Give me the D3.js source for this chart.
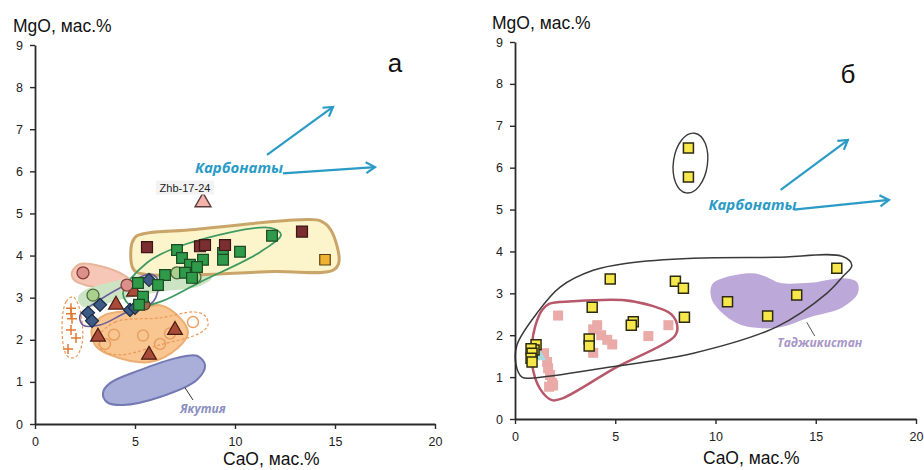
<!DOCTYPE html>
<html><head><meta charset="utf-8">
<script src="https://cdn.jsdelivr.net/npm/d3@7"></script>
<style>
body{margin:0;background:#fff;}
svg{display:block;font-family:"Liberation Sans",Arial,sans-serif;}
</style></head>
<body>
<svg id="c" width="924" height="470"></svg>
<script>
// ---------- data (CaO, MgO wt.%) ----------
const xTicks = [0,5,10,15,20];
const yTicks = [0,1,2,3,4,5,6,7,8,9];

// panel а
const aMaroonSq = [[5.6,4.2],[8.25,4.22],[8.5,4.25],[9.5,4.25],[13.35,4.57]];
const aGoldSq = [[14.5,3.9]];
const aGreenSq = [[7.1,4.13],[9.4,4.06],[9.4,3.9],[10.25,4.09],[11.85,4.47],[7.35,3.94],[8.4,3.9],[7.75,3.78],[8.1,3.73],[7.5,3.59],[7.85,3.47],[6.5,3.54],[6.15,3.3],[5.15,3.35],[5.4,3.02],[5.2,2.83]];
const aLightGreenCirc = [[7.1,3.59],[8.0,3.49],[2.9,3.06]];
const aPinkCirc = [[2.4,3.59],[4.6,3.3]];
const aBrownCirc = [[5.5,2.83]];
const aBlueDiam = [[2.65,2.64],[2.85,2.45],[3.25,2.83],[4.75,2.71],[5.0,2.76],[5.7,3.42]];
const aBrownTri = [[4.05,2.83],[4.95,3.14],[3.15,2.07],[7.0,2.23],[5.7,1.64]];
const aPinkTri = [[8.4,5.27]];
const aOrangeCirc = [[3.95,2.12],[3.5,1.9],[5.4,2.1],[6.25,1.9],[6.75,2.15],[7.9,2.42]];
const aPlus = [[1.8,2.75],[1.8,2.62],[1.85,2.5],[1.8,2.23],[2.05,2.04],[1.65,1.78]];
const aZhbLabel = ["Zhb-17-24"];

// fields (outlines) panel а
const aYellowField = [[4.85,4.3],[5.1,4.47],[8,4.62],[13.3,4.85],[14.3,4.82],[14.8,4.6],[15.2,3.85],[14.9,3.65],[12,3.62],[5.1,3.6],[4.85,3.75]];
const aGreenLoop = [[4.4,3.1],[5.6,3.83],[7.6,4.28],[11.75,4.66],[12.3,4.5],[11.25,4.08],[8.25,3.37],[6.25,2.9],[4.9,2.78]];
const aPurpleLoop = [[2.25,2.58],[3.25,2.95],[4.6,3.32],[5.75,3.56],[6.15,3.42],[5.9,2.9],[4.6,2.66],[3.25,2.35],[2.4,2.35]];
const aLightGreenField = [[2.15,3.0],[2.5,3.18],[4.25,3.42],[6.25,3.66],[8.0,3.82],[8.75,3.71],[8.85,3.47],[8.25,3.28],[6.25,3.14],[4.25,2.95],[3.0,2.78],[2.35,2.8]];
const aSalmonField = [[1.85,3.61],[2.25,3.8],[3.25,3.75],[4.5,3.52],[5.25,3.18],[4.75,3.04],[3.75,3.18],[2.5,3.3],[1.95,3.42]];
const aOrangeField = [[2.85,2.28],[3.5,2.59],[5.0,2.7],[6.25,2.82],[7.25,2.52],[7.65,2.16],[7.15,1.81],[5.75,1.47],[3.75,1.64],[3.0,1.88]];
const aOrangeDashed = [[3.15,2.04],[4.0,2.42],[6.25,2.52],[8.0,2.66],[8.5,2.57],[8.65,2.35],[8.25,2.16],[6.25,1.88],[4.25,1.64],[3.35,1.76]];
const aPlusDashed = [[1.35,2.23],[1.55,2.9],[1.9,3.02],[2.25,2.7],[2.35,1.9],[2.0,1.58],[1.6,1.62]];
const aYakutia = [[3.4,0.74],[3.75,0.97],[5.25,1.28],[7.1,1.57],[8.1,1.62],[8.5,1.4],[8.1,1.05],[6.25,0.64],[4.4,0.45],[3.6,0.52]];
const aYakutiaLeader = [[7.5,0.86],[7.9,0.57]];
const aYakutiaLabel = ["Якутия"];
const aArrows = [[[11.6,6.39],[14.9,7.53]],[[12.4,5.95],[17.0,6.1]]];
const carbLabel = ["Карбонаты"];

// panel б
const bYellowSq = [[8.65,6.47],[8.65,5.78],[4.75,3.34],[8.0,3.29],[8.4,3.12],[3.85,2.67],[8.45,2.43],[5.9,2.32],[5.8,2.24],[3.7,1.91],[3.7,1.74],[10.6,2.8],[12.6,2.46],[14.05,2.96],[16.05,3.6],[1.05,1.77],[0.95,1.65],[0.8,1.68],[0.85,1.57],[0.8,1.45],[0.85,1.36]];
const bPinkSq = [[2.15,2.47],[3.9,2.14],[4.1,2.24],[4.3,2.0],[4.6,1.89],[4.85,1.78],[3.9,1.58],[6.65,1.98],[7.65,2.24],[1.45,1.57],[1.6,1.36],[1.65,1.21],[1.75,1.05],[1.85,0.86],[1.7,0.77],[1.9,0.8]];
const bCyanTri = [[1.2,1.5]];
const bBlackLoop = [[0.1,1.77],[1.1,2.53],[2.25,3.15],[3.9,3.55],[5.6,3.72],[8.9,3.84],[13,3.86],[16.35,3.88],[16.8,3.67],[16.35,3.4],[15.55,3.0],[13.05,2.2],[8.9,1.57],[4.75,1.24],[0.9,0.98],[0.35,1.0],[0.05,1.3]];
const bRedLoop = [[1.0,2.2],[1.35,2.6],[1.7,2.75],[2.85,2.81],[5.35,2.84],[6.85,2.7],[7.8,2.5],[8.1,2.2],[7.95,1.97],[5.0,1.22],[2.4,0.5],[1.85,0.45],[1.25,0.72],[0.85,1.3],[0.85,1.8]];
const bSmallLoop = [[8.75,6.11]];
const bTajik = [[9.9,3.25],[10.55,3.39],[11.85,3.48],[12.55,3.39],[13.2,3.25],[14.7,3.25],[16.35,3.36],[17.05,3.27],[17.1,3.0],[16.35,2.67],[14.7,2.43],[13.35,2.2],[12.2,2.17],[11.05,2.29],[9.9,2.77],[9.75,3.08]];
const bTajikLeader = [[14.55,2.31],[14.95,1.98]];
const bTajikLabel = ["Таджикистан"];
const bArrows = [[[13.25,5.47],[16.6,6.66]],[[13.9,5.0],[18.65,5.23]]];

// ---------- drawing ----------
const svg = d3.select("#c");
const blue = "#2a9bc6";
const defs = svg.append("defs");
defs.append("marker").attr("id","ah").attr("markerUnits","userSpaceOnUse")
  .attr("markerWidth",14).attr("markerHeight",14).attr("refX",11).attr("refY",7).attr("orient","auto")
  .append("path").attr("d","M2,1.5 L11,7 L2,12.5").attr("fill","none").attr("stroke",blue).attr("stroke-width",2.2);

function panel(x, y, letter, letterPos, titlePos, xtitlePos){
  const g = svg.append("g");
  const lay = g.append("g");
  const ax = g.append("g").attr("transform",`translate(0,${y(0)})`)
    .call(d3.axisBottom(x).tickValues(xTicks).tickSize(5).tickSizeOuter(0).tickPadding(8));
  const ay = g.append("g").attr("transform",`translate(${x(0)},0)`)
    .call(d3.axisLeft(y).tickValues(yTicks).tickSize(5).tickSizeOuter(0).tickPadding(7));
  [ax,ay].forEach(a=>{
    a.select(".domain").attr("stroke","#2a2a2a").attr("stroke-width",1.8);
    a.selectAll(".tick line").attr("stroke","#2a2a2a").attr("stroke-width",1.4);
    a.selectAll(".tick text").attr("fill","#222").style("font-size","12.5px").style("font-family","'Liberation Sans',Arial,sans-serif");
  });
  g.append("text").attr("x",titlePos[0]).attr("y",titlePos[1]).text("MgO, мас.%")
    .style("font-size","17.5px").attr("fill","#111");
  g.append("text").attr("x",xtitlePos[0]).attr("y",xtitlePos[1]).text("CaO, мас.%")
    .style("font-size","17.5px").attr("fill","#111");
  g.append("text").attr("x",letterPos[0]).attr("y",letterPos[1]).attr("text-anchor","middle")
    .text(letter).style("font-size","26px").attr("fill","#111");
  return lay;
}

const xa = d3.scaleLinear([0,20],[35,435]), ya = d3.scaleLinear([0,9],[424,45]);
const xb = d3.scaleLinear([0,20],[515,916]), yb = d3.scaleLinear([0,9],[419,42]);

const LA = panel(xa, ya, "а", [395,72], [13,32], [223,465]);
const LB = panel(xb, yb, "б", [848,83], [492,29], [703,464]);

function closed(x,y){ return d3.line().x(d=>x(d[0])).y(d=>y(d[1])).curve(d3.curveCatmullRomClosed.alpha(0.5)); }
function field(L,x,y,pts,fill,stroke,sw,dash){
  L.append("path").attr("d",closed(x,y)(pts)).attr("fill",fill).attr("stroke",stroke||"none")
   .attr("stroke-width",sw||0).attr("stroke-dasharray",dash||null).attr("stroke-linejoin","round");
}
function sym(L,x,y,pts,type,size,fill,stroke,sw,rot){
  L.selectAll(null).data(pts).join("path")
   .attr("d",d3.symbol().type(type).size(size)())
   .attr("transform",d=>`translate(${x(d[0])},${y(d[1])})${rot?` rotate(${rot})`:""}`)
   .attr("fill",fill).attr("stroke",stroke||"none").attr("stroke-width",sw||0);
}
function arrows(L,x,y,arr){
  arr.forEach(a=>L.append("line").attr("x1",x(a[0][0])).attr("y1",y(a[0][1]))
    .attr("x2",x(a[1][0])).attr("y2",y(a[1][1])).attr("stroke",blue).attr("stroke-width",2.2)
    .attr("marker-end","url(#ah)"));
}
function label(L,x,y,pos,txt,fill,size,anchor,style){
  L.append("text").attr("x",x(pos[0])).attr("y",y(pos[1])).attr("text-anchor",anchor||"middle")
   .text(txt).attr("fill",fill).style("font-size",size)
   .style("font-style",style?"italic":null).style("font-weight",style?"bold":null)
   .style("font-family",style?"'Open Sans','Liberation Sans',sans-serif":null);
}

// ---- panel а ----
field(LA,xa,ya,aYakutia,"#a9afd9","#7379b3",2);
LA.append("path").attr("d",d3.line().x(d=>xa(d[0])).y(d=>ya(d[1]))(aYakutiaLeader)).attr("stroke","#333").attr("stroke-width",1);
label(LA,xa,ya,[8.4,0.26],aYakutiaLabel[0],"#8a8fbf","12px","middle",true);
field(LA,xa,ya,aOrangeField,"#f9c590","#ecae72",2);
field(LA,xa,ya,aSalmonField,"#f6c6b6","#e8b49a",2);
field(LA,xa,ya,aLightGreenField,"#cde4c4","none",0);
field(LA,xa,ya,aYellowField,"#fcf4cb","#c9a569",3);
field(LA,xa,ya,aOrangeDashed,"none","#e99a5c",1.2,"3,2");
field(LA,xa,ya,aPlusDashed,"none","#e99a5c",1.2,"3,2");
field(LA,xa,ya,aGreenLoop,"none","#3f9a62",1.8);
field(LA,xa,ya,aPurpleLoop,"none","#6b5c9b",1.6);

LA.selectAll(null).data(aOrangeCirc).join("circle").attr("cx",d=>xa(d[0])).attr("cy",d=>ya(d[1])).attr("r",5.5)
  .attr("fill","none").attr("stroke","#e8a062").attr("stroke-width",1.5);
LA.selectAll(null).data(aPlus).join("path")
  .attr("d",d=>`M${xa(d[0])-5},${ya(d[1])}h10M${xa(d[0])},${ya(d[1])-5}v10`)
  .attr("stroke","#e07a30").attr("stroke-width",1.5);
sym(LA,xa,ya,aBrownTri,d3.symbolTriangle,95,"#a94b39","#4a1a10",1.2);
LA.selectAll(null).data(aPinkCirc).join("circle").attr("cx",d=>xa(d[0])).attr("cy",d=>ya(d[1])).attr("r",6)
  .attr("fill","#d9918a").attr("stroke","#8a3a3a").attr("stroke-width",1.3);
LA.selectAll(null).data(aBrownCirc).join("circle").attr("cx",d=>xa(d[0])).attr("cy",d=>ya(d[1])).attr("r",5)
  .attr("fill","#9a6a4a").attr("stroke","#5a3a20").attr("stroke-width",1.2);
LA.selectAll(null).data(aLightGreenCirc).join("circle").attr("cx",d=>xa(d[0])).attr("cy",d=>ya(d[1])).attr("r",6)
  .attr("fill","#a9d08c").attr("stroke","#4f6a3c").attr("stroke-width",1.3);
sym(LA,xa,ya,aBlueDiam,d3.symbolSquare,85,"#3e5b86","#1b2a40",1.2,45);
sym(LA,xa,ya,aGreenSq,d3.symbolSquare,115,"#2f9a49","#1b4a25",1.2);
sym(LA,xa,ya,aMaroonSq,d3.symbolSquare,120,"#7b2e2f","#3a1616",1.2);
sym(LA,xa,ya,aGoldSq,d3.symbolSquare,110,"#f1b232","#5a4010",1.2);
sym(LA,xa,ya,aPinkTri,d3.symbolTriangle,110,"#f1b3aa","#5a3a3a",1.4);
LA.append("rect").attr("x",xa(7.5)-29).attr("y",ya(5.52)-11).attr("width",58).attr("height",14).attr("fill","#f3f3f3");
label(LA,xa,ya,[7.5,5.52],aZhbLabel[0],"#222","11px","middle",false);
arrows(LA,xa,ya,aArrows);
label(LA,xa,ya,[8.0,5.96],carbLabel[0],blue,"15px","start",true);

// ---- panel б ----
field(LB,xb,yb,bTajik,"#bda9d9","none",0);
LB.append("path").attr("d",d3.line().x(d=>xb(d[0])).y(d=>yb(d[1]))(bTajikLeader)).attr("stroke","#555").attr("stroke-width",1);
label(LB,xb,yb,[15.2,1.72],bTajikLabel[0],"#a696c8","12px","middle",true);
sym(LB,xb,yb,bPinkSq,d3.symbolSquare,100,"#eaaaa7","none",0);
field(LB,xb,yb,bRedLoop,"none","#b8596b",2.5);
field(LB,xb,yb,bBlackLoop,"none","#3a3a3a",1.5);
LB.selectAll(null).data(bSmallLoop).join("ellipse")
  .attr("transform",d=>`translate(${xb(d[0])},${yb(d[1])}) rotate(8)`)
  .attr("rx",xb(0.85)-xb(0)).attr("ry",yb(0)-yb(0.72))
  .attr("fill","none").attr("stroke","#3a3a3a").attr("stroke-width",1.4);
sym(LB,xb,yb,bCyanTri,d3.symbolTriangle,90,"#a9d9e1","none",0);
sym(LB,xb,yb,bYellowSq,d3.symbolSquare,100,"#f6e84b","#2d2a10",1.5);
arrows(LB,xb,yb,bArrows);
label(LB,xb,yb,[9.65,4.99],carbLabel[0],blue,"15px","start",true);
</script>
</body></html>
